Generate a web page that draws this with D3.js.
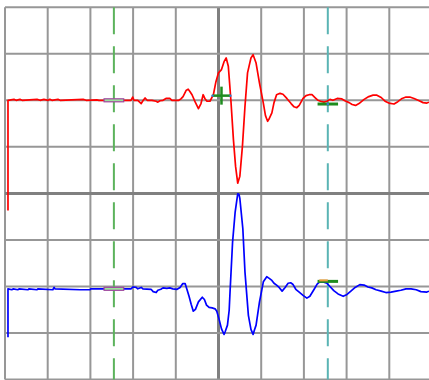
<!DOCTYPE html>
<html>
<head>
<meta charset="utf-8">
<script src="https://cdn.jsdelivr.net/npm/d3@7"></script>
<style>
  body { margin: 0; background: #fff; }
  svg { display: block; }
</style>
</head>
<body>
<div id="scope"></div>
<script>
// time in divisions (0..10), amplitude in divisions relative to the channel position
const ch1Samples = [
  [0.07, -2.37], [0.07, 0], [0.21, 0.02], [0.26, 0], [0.35, 0.02], [0.40, 0],
  [0.75, 0.02], [0.82, 0], [0.91, 0.02], [1.01, 0], [1.05, 0.02], [1.10, 0],
  [1.24, 0.02], [1.29, 0], [1.83, 0.02], [1.90, 0], [2.15, 0.01], [2.20, 0],
  [2.88, 0], [2.95, 0], [2.99, 0.07], [3.02, 0], [3.11, 0], [3.19, -0.07],
  [3.23, -0.01], [3.28, 0.05], [3.33, 0], [3.44, 0], [3.54, -0.02], [3.58, -0.04],
  [3.63, -0.01], [3.70, 0], [3.77, 0.04], [3.86, 0.04], [3.91, 0], [4.07, 0],
  [4.12, 0.03], [4.17, 0.08], [4.24, 0.21], [4.29, 0.24], [4.33, 0.19], [4.38, 0.12],
  [4.45, -0.03], [4.53, -0.18], [4.59, -0.07], [4.64, 0.12], [4.68, 0.04], [4.73, -0.02],
  [4.80, -0.02], [4.88, 0.12], [4.94, 0.40], [5.00, 0.59], [5.07, 0.66], [5.13, 0.83],
  [5.18, 0.91], [5.23, 0.73], [5.29, 0], [5.35, -0.85], [5.40, -1.42], [5.45, -1.78],
  [5.50, -1.63], [5.56, -0.99], [5.62, -0.13], [5.68, 0.59], [5.76, 0.91], [5.81, 0.98],
  [5.88, 0.80], [5.96, 0.37], [6.05, -0.06], [6.10, -0.33], [6.15, -0.45], [6.19, -0.39],
  [6.25, -0.27], [6.30, -0.05], [6.36, 0.12], [6.44, 0.15], [6.51, 0.13], [6.60, 0.04],
  [6.70, -0.07], [6.77, -0.14], [6.83, -0.16], [6.89, -0.11], [6.98, 0.04], [7.05, 0.10],
  [7.12, 0.12], [7.19, 0.12], [7.26, 0.06], [7.33, 0], [7.39, -0.02], [7.47, -0.04],
  [7.54, -0.02], [7.61, 0.02], [7.68, 0], [7.78, 0.04], [7.89, 0.03], [7.96, -0.01],
  [8.06, -0.05], [8.13, -0.09], [8.21, -0.11], [8.29, -0.07], [8.41, 0.02], [8.52, 0.08],
  [8.62, 0.11], [8.71, 0.11], [8.81, 0.06], [8.90, -0.02], [8.99, -0.06], [9.11, -0.08],
  [9.20, -0.03], [9.30, 0.04], [9.39, 0.07], [9.48, 0.07], [9.58, 0.04], [9.70, -0.01],
  [9.79, -0.05], [9.88, -0.06], [9.93, -0.04]
];

const ch2Samples = [
  [0.07, -1.04], [0.07, 0], [0.16, -0.02], [0.19, 0], [0.30, -0.02], [0.33, 0],
  [0.54, -0.02], [0.56, 0], [0.75, -0.02], [0.77, 0], [1.12, -0.02], [1.15, 0.03],
  [1.17, 0], [1.76, -0.02], [1.99, -0.02], [2.01, 0], [2.95, 0], [3.00, 0.04],
  [3.07, 0.03], [3.11, 0], [3.19, 0.03], [3.23, 0], [3.42, -0.01], [3.47, -0.06],
  [3.54, -0.08], [3.58, -0.03], [3.65, -0.01], [3.70, 0.02], [3.79, 0.01], [3.86, 0.02],
  [3.93, 0], [4.03, -0.01], [4.10, 0.03], [4.16, 0.11], [4.22, 0.11], [4.26, -0.01],
  [4.31, -0.16], [4.36, -0.33], [4.41, -0.48], [4.46, -0.44], [4.53, -0.28], [4.62, -0.18],
  [4.67, -0.23], [4.72, -0.35], [4.78, -0.40], [4.85, -0.41], [4.92, -0.43], [4.96, -0.48],
  [5.01, -0.64], [5.07, -0.86], [5.13, -0.98], [5.16, -0.91], [5.21, -0.78], [5.25, -0.46],
  [5.27, -0.07], [5.33, 1.01], [5.39, 1.65], [5.45, 2.04], [5.48, 2.03], [5.50, 1.94],
  [5.57, 1.29], [5.62, 0.36], [5.70, -0.57], [5.76, -0.87], [5.81, -0.98], [5.84, -0.89],
  [5.88, -0.78], [5.96, -0.28], [6.05, 0.15], [6.13, 0.26], [6.18, 0.23], [6.25, 0.18],
  [6.30, 0.12], [6.36, 0.08], [6.42, 0.03], [6.49, -0.05], [6.56, 0.03], [6.63, 0.12],
  [6.69, 0.13], [6.74, 0.10], [6.81, -0.01], [6.89, -0.07], [6.98, -0.14], [7.07, -0.20],
  [7.14, -0.16], [7.24, -0.01], [7.31, 0.10], [7.37, 0.15], [7.45, 0.15], [7.54, 0.12],
  [7.61, 0.05], [7.70, -0.04], [7.80, -0.11], [7.92, -0.16], [8.01, -0.12], [8.10, -0.05],
  [8.20, 0.03], [8.31, 0.09], [8.41, 0.08], [8.50, 0.04], [8.59, 0.02], [8.69, -0.02],
  [8.81, -0.05], [8.92, -0.08], [9.04, -0.07], [9.16, -0.05], [9.27, -0.03], [9.39, 0],
  [9.51, 0], [9.63, -0.02], [9.74, -0.06], [9.88, -0.07], [9.93, -0.05]
];

const channelOffsets = [2.0, -2.05];
const channelColors = ['#ff0000', '#0000ff'];

const cursorTimes = [2.55, 7.56];
const cursorColors = ['#5cb35c', '#5ab4b4'];

// reference level markers at cursor 1, measurement bars at cursor 2
const refLevels = [0, 0];
const cursor2Levels = [-0.08, 0.16];
const crossMark = { t: 5.07, v: 0.10 };

const width = 429;
const height = 380;

const svg = d3.select('#scope').append('svg')
  .attr('width', width)
  .attr('height', height);

svg.append('rect')
  .attr('width', width)
  .attr('height', height)
  .attr('fill', '#fff');

const x = d3.scaleLinear().domain([0, 10]).range([5, 432]);
const y = d3.scaleLinear().domain([-4, 4]).range([379.6, 7.2]);

/* ---------- graticule ---------- */
const grid = svg.append('g').attr('class', 'grid');
grid.selectAll('line.vx')
  .data(d3.range(0, 11))
  .enter().append('line')
  .attr('x1', d => x(d)).attr('x2', d => x(d))
  .attr('y1', y(4)).attr('y2', y(-4))
  .attr('stroke', d => d === 5 ? '#808080' : '#979797')
  .attr('stroke-width', d => d === 5 ? 3 : 2);

grid.selectAll('line.hy')
  .data(d3.range(-4, 5))
  .enter().append('line')
  .attr('y1', d => y(d)).attr('y2', d => y(d))
  .attr('x1', x(0)).attr('x2', x(10))
  .attr('stroke', d => d === 0 ? '#808080' : '#979797')
  .attr('stroke-width', d => d === 0 ? 3 : 2);

/* ---------- cursors ---------- */
svg.selectAll('line.cursor')
  .data(cursorTimes)
  .enter().append('line')
  .attr('class', 'cursor')
  .attr('x1', d => x(d)).attr('x2', d => x(d))
  .attr('y1', y(4)).attr('y2', y(-4))
  .attr('stroke', (d, i) => cursorColors[i])
  .attr('stroke-width', 2)
  .attr('stroke-dasharray', '27,12');

/* ---------- traces ---------- */
[ch1Samples, ch2Samples].forEach((samples, i) => {
  const line = d3.line()
    .x(d => x(d[0]))
    .y(d => y(d[1] + channelOffsets[i]));
  svg.append('path')
    .datum(samples)
    .attr('d', line)
    .attr('fill', 'none')
    .attr('stroke', channelColors[i])
    .attr('stroke-width', 1.7)
    .attr('stroke-linejoin', 'round');
});

/* ---------- markers ---------- */
refLevels.forEach((lv, i) => {
  const yy = y(lv + channelOffsets[i]);
  svg.append('rect')
    .attr('x', x(cursorTimes[0] - 0.23))
    .attr('y', yy - 1.5)
    .attr('width', x(cursorTimes[0] + 0.23) - x(cursorTimes[0] - 0.23))
    .attr('height', 3)
    .attr('fill', '#9be39b')
    .attr('stroke', '#a048a0')
    .attr('stroke-width', 1.2);
});

cursor2Levels.forEach((lv, i) => {
  const yy = y(lv + channelOffsets[i]);
  svg.append('line')
    .attr('x1', x(cursorTimes[1] - 0.24)).attr('x2', x(cursorTimes[1] + 0.24))
    .attr('y1', yy).attr('y2', yy)
    .attr('stroke', '#1e8c1e')
    .attr('stroke-width', 3);
  if (i === 1) {
    svg.append('line')
      .attr('x1', x(cursorTimes[1] - 0.2)).attr('x2', x(cursorTimes[1]))
      .attr('y1', yy - 1).attr('y2', yy - 1)
      .attr('stroke', '#e89a3a')
      .attr('stroke-width', 2);
  } else {
    svg.append('circle')
      .attr('cx', x(cursorTimes[1])).attr('cy', yy)
      .attr('r', 1.3)
      .attr('fill', '#3a7ad8');
  }
});

const cx = x(crossMark.t);
const cy = y(crossMark.v + channelOffsets[0]);
svg.append('line')
  .attr('x1', cx - 9).attr('x2', cx + 9)
  .attr('y1', cy).attr('y2', cy)
  .attr('stroke', '#1e8c1e').attr('stroke-width', 2.5);
svg.append('line')
  .attr('x1', cx).attr('x2', cx)
  .attr('y1', cy - 9).attr('y2', cy + 9)
  .attr('stroke', '#1e8c1e').attr('stroke-width', 2.5);
svg.append('circle')
  .attr('cx', cx - 9).attr('cy', cy).attr('r', 1.2).attr('fill', '#3a7ad8');
svg.append('circle')
  .attr('cx', cx + 9).attr('cy', cy).attr('r', 1.2).attr('fill', '#3a7ad8');
</script>
</body>
</html>
